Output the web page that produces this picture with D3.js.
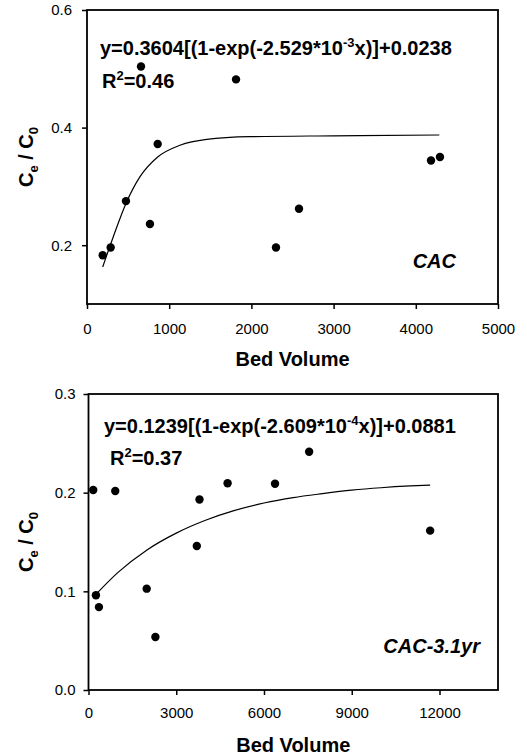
<!DOCTYPE html>
<html>
<head>
<meta charset="utf-8">
<script src="https://cdn.jsdelivr.net/npm/d3@7"></script>
<style>
  body { margin: 0; background: #fff; }
  svg { display: block; }
  text { font-family: "Liberation Sans", Arial, Helvetica, sans-serif; fill: #000; }
</style>
</head>
<body>
<svg id="chart" width="527" height="755"></svg>
<script>
// panel 1 : CAC
var cacBV = [191, 288, 474, 657, 766, 860, 1813, 2299, 2579, 4185, 4294];
var cacC = [0.183, 0.196, 0.275, 0.504, 0.236, 0.372, 0.482, 0.196, 0.262, 0.344, 0.350];
var cacFitBV = [191, 320, 474, 645, 860, 1131, 1456, 1983, 3000, 4286];
var cacFitC = [0.163, 0.2145, 0.271, 0.3165, 0.350, 0.370, 0.380, 0.3845, 0.386, 0.3874];
var cacXTicks = [0, 1000, 2000, 3000, 4000, 5000];
var cacYTicks = [0.2, 0.4, 0.6];

// panel 2 : CAC-3.1yr
var oldBV = [161, 254, 357, 915, 1989, 2287, 3703, 3795, 4755, 6377, 7543, 11680];
var oldC = [0.2027, 0.096, 0.084, 0.2017, 0.1027, 0.0537, 0.146, 0.193, 0.2095, 0.209, 0.2415, 0.1615];
var oldFitBV = [254, 1000, 2000, 3000, 4000, 5000, 6000, 7000, 8000, 9000, 10000, 11000, 11680];
var oldFitC = [0.097, 0.119, 0.142, 0.159, 0.172, 0.182, 0.1895, 0.195, 0.199, 0.2025, 0.205, 0.2068, 0.2077];
var oldXTicks = [0, 3000, 6000, 9000, 12000];
var oldYTicks = [0.0, 0.1, 0.2, 0.3];

const svg = d3.select("#chart");

function drawPanel(p) {
  const x = d3.scaleLinear().domain(p.xDomain).range([p.left, p.right]);
  const y = d3.scaleLinear().domain(p.yDomain).range([p.bottom, p.top]);
  const g = svg.append("g");

  // x axis
  g.append("g")
    .attr("transform", `translate(0,${p.bottom})`)
    .call(d3.axisBottom(x).tickValues(p.xTicks).tickFormat(d3.format("d"))
      .tickSize(5).tickPadding(p.xPad))
    .call(a => a.select(".domain").remove())
    .call(a => a.selectAll("line").attr("stroke", "#000").attr("stroke-width", 1.5))
    .call(a => a.selectAll("text").attr("font-size", 15).attr("fill", "#000")
      .style("font-family", '"Liberation Sans", Arial, sans-serif'));

  // y axis
  g.append("g")
    .attr("transform", `translate(${p.left},0)`)
    .call(d3.axisLeft(y).tickValues(p.yTicks).tickFormat(d3.format(".1f"))
      .tickSize(5).tickPadding(p.yPad))
    .call(a => a.select(".domain").remove())
    .call(a => a.selectAll("line").attr("stroke", "#000").attr("stroke-width", 1.5))
    .call(a => a.selectAll("text").attr("font-size", 15).attr("fill", "#000")
      .style("font-family", '"Liberation Sans", Arial, sans-serif'));

  // frame
  g.append("rect")
    .attr("x", p.left).attr("y", p.top)
    .attr("width", p.right - p.left).attr("height", p.bottom - p.top)
    .attr("fill", "none").attr("stroke", "#000").attr("stroke-width", 1.8);

  // fitted curve
  const line = d3.line()
    .x((d, i) => x(p.fitX[i]))
    .y(d => y(d))
    .curve(d3.curveMonotoneX);
  g.append("path")
    .datum(p.fitY)
    .attr("d", line)
    .attr("fill", "none")
    .attr("stroke", "#000")
    .attr("stroke-width", 1.2);

  // data points
  g.selectAll("circle.pt")
    .data(p.ys)
    .enter().append("circle")
    .attr("class", "pt")
    .attr("cx", (d, i) => x(p.xs[i]))
    .attr("cy", d => y(d))
    .attr("r", 4.2)
    .attr("fill", "#000");

  // equation
  const eq = g.append("text")
    .attr("x", p.eqX).attr("y", p.eqY)
    .attr("font-size", 20).attr("font-weight", "bold");
  eq.append("tspan").text(p.eq[0]);
  eq.append("tspan").attr("font-size", 13).attr("dy", -8).text(p.eq[1]);
  eq.append("tspan").attr("dy", 8).text(p.eq[2]);

  const r2 = g.append("text")
    .attr("x", p.r2X).attr("y", p.r2Y)
    .attr("font-size", 20).attr("font-weight", "bold");
  r2.append("tspan").text("R");
  r2.append("tspan").attr("font-size", 13).attr("dy", -8).text("2");
  r2.append("tspan").attr("dy", 8).text(p.r2);

  // panel name
  g.append("text")
    .attr("x", p.nameX).attr("y", p.nameY)
    .attr("text-anchor", "end")
    .attr("font-size", 20).attr("font-weight", "bold").attr("font-style", "italic")
    .text(p.name);

  // axis titles
  g.append("text")
    .attr("x", (p.left + p.right) / 2).attr("y", p.bottom + 62)
    .attr("text-anchor", "middle")
    .attr("font-size", 20).attr("font-weight", "bold")
    .text("Bed Volume");

  const yl = g.append("text")
    .attr("transform", `translate(33,${(p.top + p.bottom) / 2}) rotate(-90)`)
    .attr("text-anchor", "middle")
    .attr("font-size", 20).attr("font-weight", "bold");
  yl.append("tspan").text("C");
  yl.append("tspan").attr("font-size", 13).attr("dy", 5).text("e");
  yl.append("tspan").attr("dy", -5).text(" / C");
  yl.append("tspan").attr("font-size", 13).attr("dy", 5).text("0");
}

drawPanel({
  xs: cacBV, ys: cacC, fitX: cacFitBV, fitY: cacFitC,
  xDomain: [0, 5000], yDomain: [0.1, 0.6],
  xTicks: cacXTicks, yTicks: cacYTicks,
  left: 87, right: 498, top: 10, bottom: 304, xPad: 14, yPad: 10,
  eq: ["y=0.3604[(1-exp(-2.529*10", "-3", "x)]+0.0238"], eqX: 100, eqY: 55,
  r2: "=0.46", r2X: 102, r2Y: 88,
  name: "CAC", nameX: 456, nameY: 268
});

drawPanel({
  xs: oldBV, ys: oldC, fitX: oldFitBV, fitY: oldFitC,
  xDomain: [0, 14000], yDomain: [0, 0.3],
  xTicks: oldXTicks, yTicks: oldYTicks,
  left: 88.5, right: 498, top: 394, bottom: 690, xPad: 12, yPad: 8,
  eq: ["y=0.1239[(1-exp(-2.609*10", "-4", "x)]+0.0881"], eqX: 104, eqY: 433,
  r2: "=0.37", r2X: 110, r2Y: 465,
  name: "CAC-3.1yr", nameX: 480, nameY: 653
});
</script>
</body>
</html>
